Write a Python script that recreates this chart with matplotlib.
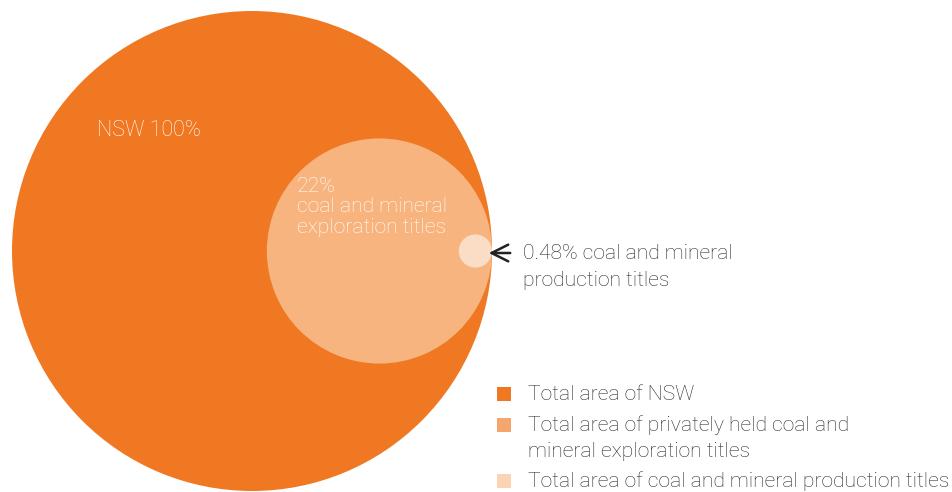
import matplotlib
matplotlib.use("Agg")
import matplotlib.pyplot as plt
from matplotlib.patches import Circle
import numpy as np

# share of NSW area (%)
labels = ["Total area of NSW",
          "Total area of privately held coal and\nmineral exploration titles",
          "Total area of coal and mineral production titles"]
shares = [100, 22, 0.48]
colors = ["#F07822", "#F7B47E", "#FBDCC4"]
legend_colors = ["#F07822", "#F5A56E", "#FBD3B5"]

plt.rcParams['font.family'] = ['Roboto', 'DejaVu Sans']

fig = plt.figure(figsize=(9.52, 4.92), dpi=100)
ax = fig.add_axes([0, 0, 1, 1])
ax.set_xlim(0, 952)
ax.set_ylim(492, 0)
ax.set_aspect('equal')
ax.axis('off')

# circles scaled by area, all touching on the right side
R = 240
cx, cy = 252, 251
right = cx + R
for s, c in zip(shares, colors):
    r = R * np.sqrt(s / 100)
    ax.add_patch(Circle((right - r, cy), r, color=c, lw=0))

ax.text(97, 131, "NSW 100%", color="white", fontsize=15.5, fontweight='light',
        ha='left', va='center')
ax.text(297, 177, "22%\ncoal and mineral\nexploration titles", color="white",
        fontsize=15.2, fontweight='light', ha='left', va='top', linespacing=1.1)

ax.annotate("", xy=(486, 253), xytext=(513, 253),
            arrowprops=dict(arrowstyle='->', color='#222222', lw=1.8,
                            mutation_scale=30))
ax.text(523, 267, "0.48% coal and mineral\nproduction titles", color="#2b2b2b",
        fontsize=15.2, fontweight='light', ha='left', va='center', linespacing=1.55)

# legend
leg_y = [394, 425, 481]
text_y = [394, 438.5, 481]
for y, ty, lab, c in zip(leg_y, text_y, labels, legend_colors):
    ax.scatter([504], [y], marker='s', s=100, color=c, lw=0)
    ax.text(528, ty, lab, color="#2b2b2b", fontsize=15.2, fontweight='light',
            ha='left', va='center', linespacing=1.48)

fig.savefig("out.png", dpi=100)
